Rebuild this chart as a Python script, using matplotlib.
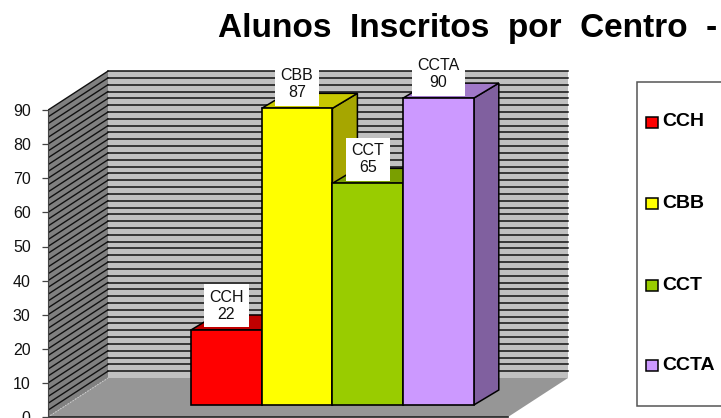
import matplotlib
matplotlib.use('Agg')
import matplotlib.pyplot as plt
from matplotlib.patches import Polygon, Rectangle

plt.rcParams['font.family'] = ['Liberation Sans', 'DejaVu Sans']

# data
centros = ['CCH', 'CBB', 'CCT', 'CCTA']
alunos = [22, 87, 65, 90]
cores = ['#ff0000', '#ffff00', '#99cc00', '#cc99ff']
cores_topo = ['#c00000', '#c8c800', '#7a9f00', '#a078c8']
cores_lado = ['#a00000', '#a6a600', '#7a9f00', '#80609f']
y_ticks = list(range(0, 100, 10))
grid_vals = list(range(2, 92, 2))
titulo = 'Alunos  Inscritos  por  Centro  -'

# layout, x in pixels and y in axis units
PX = 3.41          # pixels per unit
LEFT = 48
DX, DY = 60, 39 / PX          # depth of the walls
BAR_X, BAR_W = 191, 70.7
BAR_BASE = 12 / PX
BAR_DX, BAR_DY = 25, 15 / PX
FLOOR_W = 460
YMAX = 90

fig = plt.figure(figsize=(7.21, 4.18), dpi=100)
ax = fig.add_axes([LEFT / 721, 0, 1 - LEFT / 721, 1])
ax.set_xlim(LEFT, 721)
ax.set_ylim(-1 / PX, 417 / PX)
ax.patch.set_visible(False)

# walls and floor
ax.add_patch(Rectangle((LEFT + DX, DY), FLOOR_W, YMAX, fc='#c0c0c0', ec='none', zorder=1))
ax.add_patch(Polygon([(LEFT, 0), (LEFT + DX, DY), (LEFT + DX, YMAX + DY), (LEFT, YMAX)],
                     fc='#808080', ec='none', zorder=1))
ax.add_patch(Polygon([(LEFT, 0), (LEFT + FLOOR_W, 0), (LEFT + FLOOR_W + DX, DY), (LEFT + DX, DY)],
                     fc='#969696', ec='none', zorder=1))

# gridlines, every 2 units
for g in grid_vals:
    ax.plot([LEFT + DX, LEFT + DX + FLOOR_W], [g + DY, g + DY], color='#111111', lw=1.1, zorder=2)
    ax.plot([LEFT, LEFT + DX], [g, g + DY], color='#111111', lw=1.0, zorder=2)
ax.plot([LEFT, LEFT + FLOOR_W], [0, 0], color='#222222', lw=1.2, zorder=2)
ax.plot([LEFT, LEFT + DX], [0, DY], color='#d0d0d0', lw=0.8, ls=':', zorder=2)

# bars
for i in range(len(centros)):
    x0 = BAR_X + i * BAR_W
    x1 = x0 + BAR_W
    top = BAR_BASE + alunos[i]
    ax.add_patch(Polygon([(x1, BAR_BASE), (x1 + BAR_DX, BAR_BASE + BAR_DY),
                          (x1 + BAR_DX, top + BAR_DY), (x1, top)],
                         fc=cores_lado[i], ec='black', lw=1.1, zorder=3 + i))
    ax.add_patch(Polygon([(x0, top), (x1, top), (x1 + BAR_DX, top + BAR_DY), (x0 + BAR_DX, top + BAR_DY)],
                         fc=cores_topo[i], ec='black', lw=1.1, zorder=3 + i))
    ax.bar(x0, alunos[i], width=BAR_W, bottom=BAR_BASE, align='edge', color=cores[i],
           edgecolor='black', linewidth=1.2, zorder=3 + i)

# labels go above the bars
for i in range(len(centros)):
    xc = BAR_X + (i + 0.5) * BAR_W
    ax.text(xc, BAR_BASE + alunos[i] + 24 / PX, centros[i] + '\n' + str(alunos[i]),
            ha='center', va='center', fontsize=11.5, color='#111111', linespacing=1.15, zorder=10,
            bbox=dict(fc='white', ec='none', pad=4), clip_on=False)

# y axis
for s in ['top', 'right', 'bottom']:
    ax.spines[s].set_visible(False)
ax.spines['left'].set_bounds(0, YMAX)
ax.spines['left'].set_color('#444444')
ax.set_xticks([])
ax.set_yticks(y_ticks)
ax.tick_params(axis='y', length=4.5, width=0.9, color='#444444', labelsize=11.5, pad=8, labelcolor='#111111')

# legend, runs off the right edge like the original
ax.add_patch(Rectangle((636.5, 11 / PX), 120, 324 / PX, fc='white', ec='#555555', lw=1.1,
                       zorder=2, clip_on=False))
legend_y = [295 / PX, 214 / PX, 132 / PX, 52 / PX]
for i in range(len(centros)):
    ax.add_patch(Rectangle((646, legend_y[i] - 5.5 / PX), 12, 11 / PX, fc=cores[i], ec='black', lw=1.1, zorder=3))
    ax.text(662, legend_y[i], centros[i], ha='left', va='center', fontsize=14, fontweight='bold',
            color='black', zorder=3, clip_on=True)

fig.text(218 / 721, 1 - 37 / 418, titulo, ha='left', va='baseline', fontsize=24, fontweight='bold', color='black')

fig.savefig('out.png', dpi=100)
plt.close()
